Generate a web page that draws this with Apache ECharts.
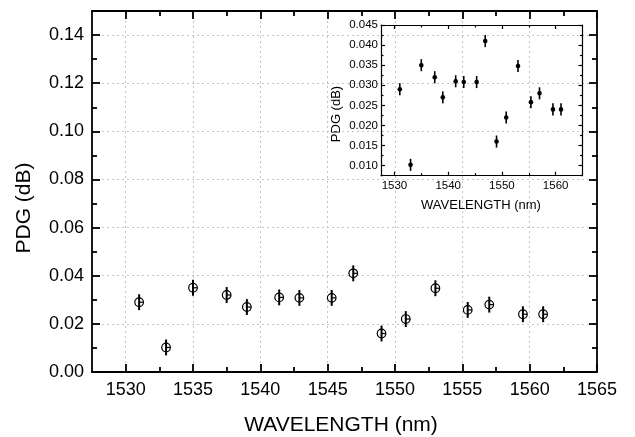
<!DOCTYPE html>
<html><head><meta charset="utf-8">
<script src="https://cdn.jsdelivr.net/npm/echarts@6/dist/echarts.min.js"></script>
<style>html,body{margin:0;padding:0;background:#fff}#c{width:635px;height:437px}</style>
</head><body><div id="c"></div>
<script>
// ---- data ----
const wavelength = [1531.0, 1533.0, 1535.0, 1537.5, 1539.0, 1541.4, 1542.9, 1545.3, 1546.9, 1549.0, 1550.8, 1553.0, 1555.4, 1557.0, 1559.5, 1561.0];
const pdg        = [0.029, 0.0102, 0.035, 0.032, 0.027, 0.031, 0.0308, 0.0308, 0.041, 0.016, 0.022, 0.0348, 0.0258, 0.028, 0.024, 0.024];
const errMain    = [0.0033, 0.0033, 0.0033, 0.0033, 0.0033, 0.0033, 0.0033, 0.0033, 0.0033, 0.0033, 0.0033, 0.0033, 0.0033, 0.0033, 0.0033, 0.0033];
const errInset   = [0.0015, 0.0015, 0.0015, 0.0015, 0.0015, 0.0015, 0.0015, 0.0015, 0.0015, 0.0015, 0.0015, 0.0015, 0.0015, 0.0015, 0.0015, 0.0015];

const mainXMajor  = [1530, 1535, 1540, 1545, 1550, 1555, 1560, 1565];
const mainXMinor  = [1532.5, 1537.5, 1542.5, 1547.5, 1552.5, 1557.5, 1562.5];
const mainYMajor  = [0, 0.02, 0.04, 0.06, 0.08, 0.10, 0.12, 0.14];
const mainYMinor  = [0.01, 0.03, 0.05, 0.07, 0.09, 0.11, 0.13];
const insetXMajor = [1530, 1540, 1550, 1560];
const insetXMinor = [1535, 1545, 1555];
const insetYMajor = [0.010, 0.015, 0.020, 0.025, 0.030, 0.035, 0.040, 0.045];
const insetYMinor = [0.0075, 0.0125, 0.0175, 0.0225, 0.0275, 0.0325, 0.0375, 0.0425];

const xTitle = 'WAVELENGTH (nm)';
const yTitle = 'PDG (dB)';

// ---- helpers ----
const FONT = '"Liberation Sans", Arial, sans-serif';
function ax(gridIndex, position, min, max, ticks, len, lw, extra) {
  return Object.assign({
    type: 'value', gridIndex: gridIndex, position: position, min: min, max: max,
    axisLine: { show: true, onZero: false, lineStyle: { color: '#000', width: lw } },
    axisTick: { show: true, inside: true, length: len, customValues: ticks, lineStyle: { color: '#000', width: lw } },
    axisLabel: { show: false },
    splitLine: { show: false }
  }, extra || {});
}
function lab(values, size, margin, digits) {
  return { show: true, customValues: values, fontSize: size, fontFamily: FONT, color: '#000', margin: margin,
           formatter: function (v) { return digits == null ? String(Math.round(v)) : v.toFixed(digits); } };
}
const grid0Split = { show: true, lineStyle: { color: '#c4c4c4', width: 1, type: [2, 3] } };

const MX = [1527.5, 1565], MY = [0, 0.15];
const IX = [1527.5, 1565], IY = [0.0075, 0.045];

const xAxes = [
  ax(0, 'bottom', MX[0], MX[1], mainXMajor, 8, 1.8, { axisLabel: lab(mainXMajor, 18, 9, null), splitLine: grid0Split }),
  ax(0, 'bottom', MX[0], MX[1], mainXMinor, 5, 1.8, { axisLine: { show: false, onZero: false } }),
  ax(0, 'top', MX[0], MX[1], mainXMajor, 8, 1.8),
  ax(0, 'top', MX[0], MX[1], mainXMinor, 5, 1.8, { axisLine: { show: false, onZero: false } }),
  ax(1, 'bottom', IX[0], IX[1], insetXMajor, 4, 1.2, { axisLabel: lab(insetXMajor, 11.5, 4, null) }),
  ax(1, 'bottom', IX[0], IX[1], insetXMinor, 2.5, 1.2, { axisLine: { show: false, onZero: false } }),
  ax(1, 'top', IX[0], IX[1], insetXMajor, 4, 1.2),
  ax(1, 'top', IX[0], IX[1], insetXMinor, 2.5, 1.2, { axisLine: { show: false, onZero: false } })
];
const yAxes = [
  ax(0, 'left', MY[0], MY[1], mainYMajor, 8, 1.8, { axisLabel: lab(mainYMajor, 18, 8, 2), splitLine: grid0Split }),
  ax(0, 'left', MY[0], MY[1], mainYMinor, 5, 1.8, { axisLine: { show: false, onZero: false } }),
  ax(0, 'right', MY[0], MY[1], mainYMajor, 8, 1.8),
  ax(0, 'right', MY[0], MY[1], mainYMinor, 5, 1.8, { axisLine: { show: false, onZero: false } }),
  ax(1, 'left', IY[0], IY[1], insetYMajor, 4, 1.2, { axisLabel: lab(insetYMajor, 11.5, 3, 3) }),
  ax(1, 'left', IY[0], IY[1], insetYMinor, 2.5, 1.2, { axisLine: { show: false, onZero: false } }),
  ax(1, 'right', IY[0], IY[1], insetYMajor, 4, 1.2),
  ax(1, 'right', IY[0], IY[1], insetYMinor, 2.5, 1.2, { axisLine: { show: false, onZero: false } })
];

const mainData = wavelength.map(function (w, i) { return [w, pdg[i], errMain[i]]; });
const insetData = wavelength.map(function (w, i) { return [w, pdg[i], errInset[i]]; });

function renderMain(params, api) {
  const x = api.value(0), y = api.value(1), e = api.value(2);
  const c = api.coord([x, y]), t = api.coord([x, y + e]), b = api.coord([x, y - e]);
  return { type: 'group', children: [
    { type: 'circle', shape: { cx: c[0], cy: c[1], r: 4.3 }, style: { fill: 'none', stroke: '#000', lineWidth: 1.2 } },
    { type: 'line', shape: { x1: c[0], y1: t[1], x2: c[0], y2: b[1] }, style: { stroke: '#000', lineWidth: 2 } },
    { type: 'line', shape: { x1: c[0], y1: c[1], x2: c[0] + 4.3, y2: c[1] }, style: { stroke: '#000', lineWidth: 1.2 } }
  ] };
}
function renderInset(params, api) {
  const x = api.value(0), y = api.value(1), e = api.value(2);
  const c = api.coord([x, y]), t = api.coord([x, y + e]), b = api.coord([x, y - e]);
  return { type: 'group', children: [
    { type: 'line', shape: { x1: c[0], y1: t[1], x2: c[0], y2: b[1] }, style: { stroke: '#000', lineWidth: 1.6 } },
    { type: 'circle', shape: { cx: c[0], cy: c[1], r: 2.3 }, style: { fill: '#000' } }
  ] };
}

const chart = echarts.init(document.getElementById('c'), null, { renderer: 'canvas' });
chart.setOption({
  backgroundColor: '#fff',
  animation: false,
  textStyle: { fontFamily: FONT },
  grid: [
    { left: 92, top: 11, width: 505, height: 361 },
    { left: 381, top: 25, width: 201.5, height: 150.7 }
  ],
  xAxis: xAxes,
  yAxis: yAxes,
  series: [
    { type: 'custom', xAxisIndex: 0, yAxisIndex: 0, data: mainData, renderItem: renderMain, clip: false, z: 5 },
    { type: 'custom', xAxisIndex: 4, yAxisIndex: 4, data: insetData, renderItem: renderInset, clip: false, z: 5 }
  ],
  graphic: [
    { type: 'text', x: 341, y: 425, style: { text: xTitle, font: '21px ' + FONT, fill: '#000', textAlign: 'center', textVerticalAlign: 'middle' } },
    { type: 'text', x: 24, y: 208, rotation: Math.PI / 2, style: { text: yTitle, font: '21px ' + FONT, fill: '#000', textAlign: 'center', textVerticalAlign: 'middle' } },
    { type: 'text', x: 481, y: 205, style: { text: xTitle, font: '13px ' + FONT, fill: '#000', textAlign: 'center', textVerticalAlign: 'middle' } },
    { type: 'text', x: 336, y: 114, rotation: Math.PI / 2, style: { text: yTitle, font: '13px ' + FONT, fill: '#000', textAlign: 'center', textVerticalAlign: 'middle' } }
  ]
});
</script>
</body></html>
